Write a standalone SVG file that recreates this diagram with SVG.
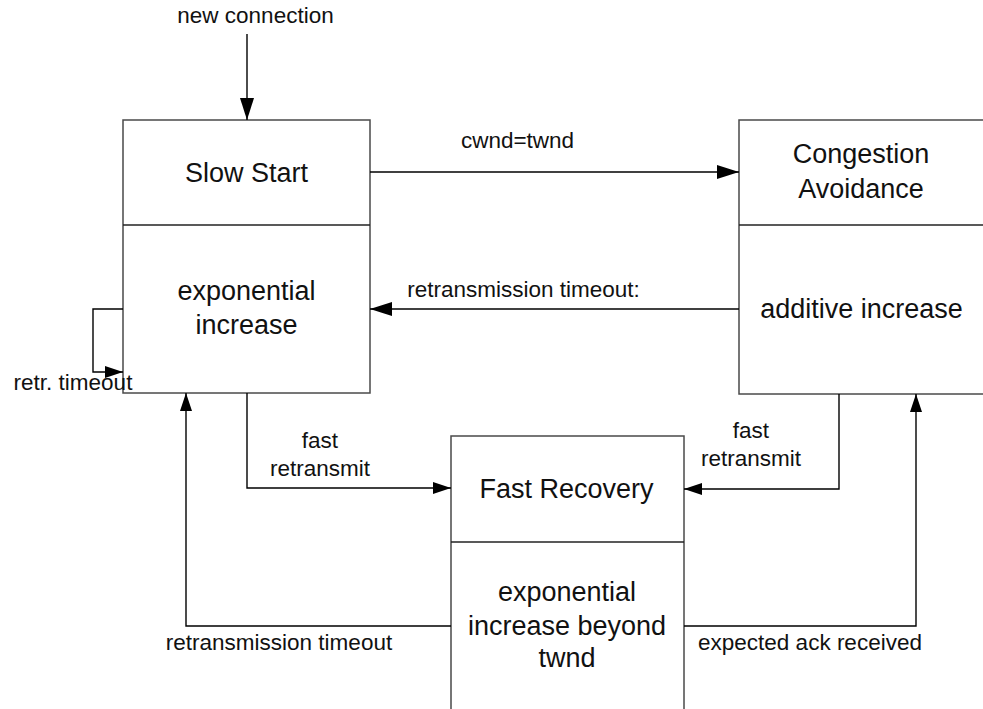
<svg xmlns="http://www.w3.org/2000/svg" width="983" height="709" viewBox="0 0 983 709">
  <style>
    .box { fill: #ffffff; stroke: #4a4a4a; stroke-width: 1.5; }
    .div { stroke: #222222; stroke-width: 1.5; }
    .conn { fill: none; stroke: #000000; stroke-width: 1.4; }
    .state { font-family: "Liberation Sans", Arial, sans-serif; font-size: 27px; fill: #111111; text-anchor: middle; }
    .label { font-family: "Liberation Sans", Arial, sans-serif; font-size: 22.5px; fill: #111111; text-anchor: middle; }
  </style>
  <defs>
    <marker id="arrowL" markerUnits="userSpaceOnUse" markerWidth="22" markerHeight="14" viewBox="0 0 22 14" refX="22" refY="7" orient="auto">
      <path d="M0,0 L22,7 L0,14 z" fill="#000000"/>
    </marker>
    <marker id="arrowS" markerUnits="userSpaceOnUse" markerWidth="18" markerHeight="12" viewBox="0 0 18 12" refX="18" refY="6" orient="auto">
      <path d="M0,0 L18,6 L0,12 z" fill="#000000"/>
    </marker>
  </defs>

  <!-- Slow Start state -->
  <g id="slow-start">
    <rect class="box" x="123" y="120" width="247" height="273"/>
    <line class="div" x1="123" y1="225" x2="370" y2="225"/>
    <text class="state" x="246.5" y="182">Slow Start</text>
    <text class="state" x="246.5" y="300">exponential</text>
    <text class="state" x="246.5" y="334">increase</text>
  </g>

  <!-- Congestion Avoidance state (runs off the right edge) -->
  <g id="congestion-avoidance">
    <rect class="box" x="739" y="120" width="270" height="274"/>
    <line class="div" x1="739" y1="225" x2="1009" y2="225"/>
    <text class="state" x="861" y="163">Congestion</text>
    <text class="state" x="861" y="198">Avoidance</text>
    <text class="state" x="861.5" y="318">additive increase</text>
  </g>

  <!-- Fast Recovery state (runs off the bottom edge) -->
  <g id="fast-recovery">
    <rect class="box" x="451" y="436" width="233" height="290"/>
    <line class="div" x1="451" y1="542" x2="684" y2="542"/>
    <text class="state" x="566.5" y="498">Fast Recovery</text>
    <text class="state" x="567" y="601">exponential</text>
    <text class="state" x="567" y="635">increase beyond</text>
    <text class="state" x="567" y="667">twnd</text>
  </g>

  <!-- Transitions -->
  <g id="connectors">
    <path class="conn" d="M247,34 V120" marker-end="url(#arrowL)"/>
    <path class="conn" d="M370,172 H739" marker-end="url(#arrowL)"/>
    <path class="conn" d="M739,309 H370" marker-end="url(#arrowL)"/>
    <path class="conn" d="M123,309 H93 V372 H123" marker-end="url(#arrowS)"/>
    <path class="conn" d="M247,393 V488 H451" marker-end="url(#arrowS)"/>
    <path class="conn" d="M839,394 V489 H684" marker-end="url(#arrowS)"/>
    <path class="conn" d="M451,626 H186 V393" marker-end="url(#arrowS)"/>
    <path class="conn" d="M684,626 H916 V394" marker-end="url(#arrowS)"/>
  </g>

  <!-- Transition labels -->
  <g id="labels">
    <text class="label" x="255.5" y="23">new connection</text>
    <text class="label" x="517.5" y="148">cwnd=twnd</text>
    <text class="label" x="523.5" y="297">retransmission timeout:</text>
    <text class="label" x="73" y="390">retr. timeout</text>
    <text class="label" x="320" y="448">fast</text>
    <text class="label" x="320" y="476">retransmit</text>
    <text class="label" x="751" y="438">fast</text>
    <text class="label" x="751" y="466">retransmit</text>
    <text class="label" x="279" y="650">retransmission timeout</text>
    <text class="label" x="810" y="650">expected ack received</text>
  </g>
</svg>
